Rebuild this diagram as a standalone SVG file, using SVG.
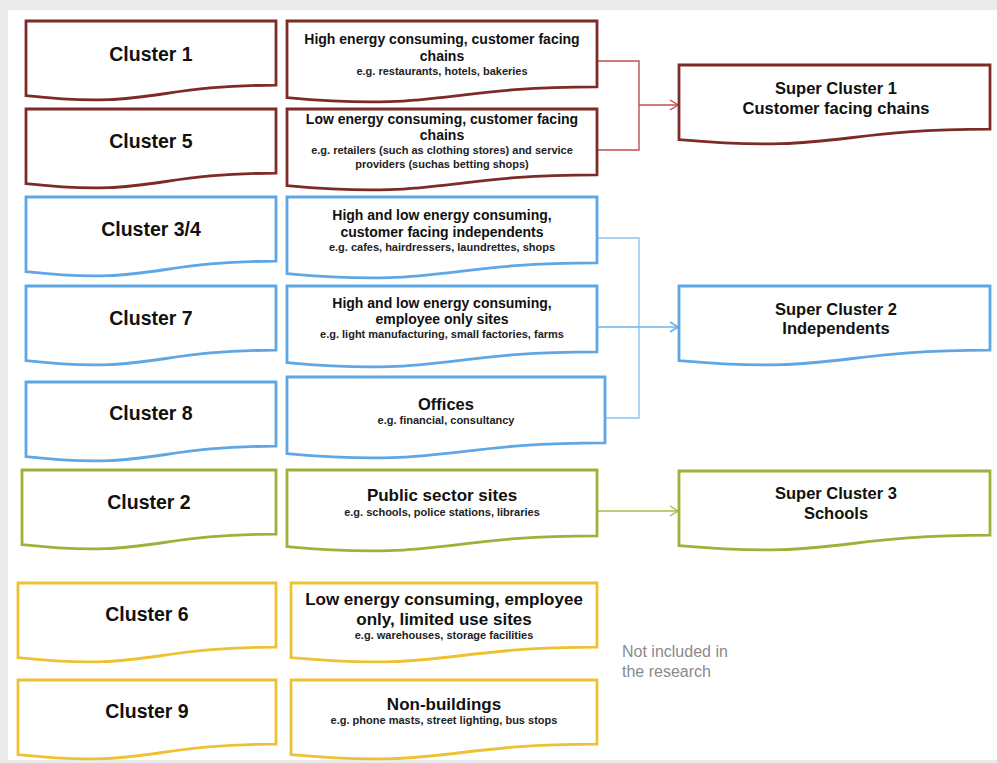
<svg xmlns="http://www.w3.org/2000/svg" width="997" height="763" viewBox="0 0 997 763">
<style>
.box{fill:#fff;stroke-width:2.8;stroke-linejoin:miter}
.red{stroke:#7d2b27}.blue{stroke:#5fa7e4}.green{stroke:#9cb23a}.yellow{stroke:#eec133}
.cl{font-family:"Liberation Sans",Arial,sans-serif;font-weight:bold;font-size:19.5px;fill:#111;text-anchor:middle}
.h{font-family:"Liberation Sans",Arial,sans-serif;font-weight:bold;font-size:14px;fill:#111;text-anchor:middle}
.hl{font-family:"Liberation Sans",Arial,sans-serif;font-weight:bold;font-size:17px;fill:#111;text-anchor:middle}
.s{font-family:"Liberation Sans",Arial,sans-serif;font-weight:bold;font-size:11px;fill:#222;text-anchor:middle}
.sc{font-family:"Liberation Sans",Arial,sans-serif;font-weight:bold;font-size:16.5px;fill:#111;text-anchor:middle}
.note{font-family:"Liberation Sans",Arial,sans-serif;font-size:16px;fill:#8a8a8a}
.con{fill:none;stroke-width:1.4}
</style>
<defs>
<marker id="arR" markerWidth="10" markerHeight="12" refX="9" refY="6" orient="auto" markerUnits="userSpaceOnUse"><path d="M1,1 L9,6 L1,11" fill="none" stroke="#c0504d" stroke-width="1.4"/></marker>
<marker id="arB" markerWidth="10" markerHeight="12" refX="9" refY="6" orient="auto" markerUnits="userSpaceOnUse"><path d="M1,1 L9,6 L1,11" fill="none" stroke="#6fb3ea" stroke-width="1.8"/></marker>
<marker id="arG" markerWidth="10" markerHeight="12" refX="9" refY="6" orient="auto" markerUnits="userSpaceOnUse"><path d="M1,1 L9,6 L1,11" fill="none" stroke="#a5bd4a" stroke-width="1.4"/></marker>
</defs>
<rect x="0" y="0" width="997" height="763" fill="#ebebeb"/>
<rect x="8" y="10" width="989" height="750" fill="#fff"/>

<g id="connectors">
<path class="con" stroke="#c0504d" d="M597,61 H639 V150 H597"/>
<path class="con" stroke="#c0504d" d="M639,105 H678" marker-end="url(#arR)"/>
<path class="con" stroke="#8dc3ee" d="M597,238 H639 V418 H605"/>
<path class="con" stroke="#6fb3ea" stroke-width="1.6" d="M597,327 H678" marker-end="url(#arB)"/>
<path class="con" stroke="#a5bd4a" d="M597,511 H678" marker-end="url(#arG)"/>
</g>

<g id="cluster1"><path class="box red" d="M26,21 H276 V85.2 C151,85.2 151,109.6 26,95.7 Z"/><text class="cl" x="151" y="61">Cluster 1</text></g>
<g id="desc1"><path class="box red" d="M287,21 H597 V86.8 C442,86.8 442,111.8 287,97.6 Z"/>
<text class="h" x="442" y="44">High energy consuming,  customer facing</text>
<text class="h" x="442" y="61">chains</text>
<text class="s" x="442" y="75">e.g. restaurants, hotels, bakeries</text></g>

<g id="cluster5"><path class="box red" d="M26,109 H276 V173.2 C151,173.2 151,197.6 26,183.7 Z"/><text class="cl" x="151" y="148">Cluster 5</text></g>
<g id="desc5"><path class="box red" d="M287,109 H597 V174.8 C442,174.8 442,199.8 287,185.6 Z"/>
<text class="h" x="442" y="124">Low energy consuming,  customer facing</text>
<text class="h" x="442" y="140">chains</text>
<text class="s" x="442" y="154">e.g. retailers (such as clothing stores) and service</text>
<text class="s" x="442" y="168">providers (suchas betting shops)</text></g>

<g id="cluster34"><path class="box blue" d="M26,197 H276 V261.2 C151,261.2 151,285.6 26,271.7 Z"/><text class="cl" x="151" y="236">Cluster 3/4</text></g>
<g id="desc34"><path class="box blue" d="M287,197 H597 V262.8 C442,262.8 442,287.8 287,273.6 Z"/>
<text class="h" x="442" y="220">High and low energy consuming,</text>
<text class="h" x="442" y="237">customer facing independents</text>
<text class="s" x="442" y="251">e.g. cafes, hairdressers, laundrettes, shops</text></g>

<g id="cluster7"><path class="box blue" d="M26,286 H276 V350.2 C151,350.2 151,374.6 26,360.7 Z"/><text class="cl" x="151" y="325">Cluster 7</text></g>
<g id="desc7"><path class="box blue" d="M287,286 H597 V351.8 C442,351.8 442,376.8 287,362.6 Z"/>
<text class="h" x="442" y="308">High and low energy consuming,</text>
<text class="h" x="442" y="324">employee only sites</text>
<text class="s" x="442" y="338">e.g. light manufacturing, small factories, farms</text></g>

<g id="cluster8"><path class="box blue" d="M26,382 H276 V446.2 C151,446.2 151,470.6 26,456.7 Z"/><text class="cl" x="151" y="420">Cluster 8</text></g>
<g id="desc8"><path class="box blue" d="M287,377 H605 V442.8 C446,442.8 446,467.8 287,453.6 Z"/>
<text class="hl" x="446" y="410" style="font-size:16.5px">Offices</text>
<text class="s" x="446" y="424">e.g. financial, consultancy</text></g>

<g id="cluster2"><path class="box green" d="M22,470 H276 V534.2 C149,534.2 149,558.6 22,544.7 Z"/><text class="cl" x="149" y="509">Cluster 2</text></g>
<g id="desc2"><path class="box green" d="M287,470 H597 V535.8 C442,535.8 442,560.8 287,546.6 Z"/>
<text class="hl" x="442" y="501">Public sector sites</text>
<text class="s" x="442" y="516">e.g. schools, police stations, libraries</text></g>

<g id="cluster6"><path class="box yellow" d="M18,583 H276 V647.2 C147,647.2 147,671.6 18,657.7 Z"/><text class="cl" x="147" y="621">Cluster 6</text></g>
<g id="desc6"><path class="box yellow" d="M291,583 H597 V647.2 C444,647.2 444,671.6 291,657.7 Z"/>
<text class="hl" x="444" y="605">Low energy consuming, employee</text>
<text class="hl" x="444" y="625">only, limited  use sites</text>
<text class="s" x="444" y="639">e.g. warehouses, storage facilities</text></g>

<g id="cluster9"><path class="box yellow" d="M18,680 H276 V744.2 C147,744.2 147,768.6 18,754.7 Z"/><text class="cl" x="147" y="718">Cluster 9</text></g>
<g id="desc9"><path class="box yellow" d="M291,680 H597 V744.2 C444,744.2 444,768.6 291,754.7 Z"/>
<text class="hl" x="444" y="710">Non-buildings</text>
<text class="s" x="444" y="724">e.g. phone masts, street lighting, bus stops</text></g>

<g id="super1"><path class="box red" d="M679,65 H990 V129.2 C834.5,129.2 834.5,153.6 679,139.7 Z"/>
<text class="sc" x="836" y="94">Super Cluster 1</text>
<text class="sc" x="836" y="114">Customer facing chains</text></g>
<g id="super2"><path class="box blue" d="M679,286 H990 V350.2 C834.5,350.2 834.5,374.6 679,360.7 Z"/>
<text class="sc" x="836" y="315">Super Cluster 2</text>
<text class="sc" x="836" y="334">Independents</text></g>
<g id="super3"><path class="box green" d="M679,471 H990 V535.2 C834.5,535.2 834.5,559.6 679,545.7 Z"/>
<text class="sc" x="836" y="499">Super Cluster 3</text>
<text class="sc" x="836" y="519">Schools</text></g>

<g id="note"><text class="note" x="622" y="657">Not included in</text><text class="note" x="622" y="677">the research</text></g>
</svg>
